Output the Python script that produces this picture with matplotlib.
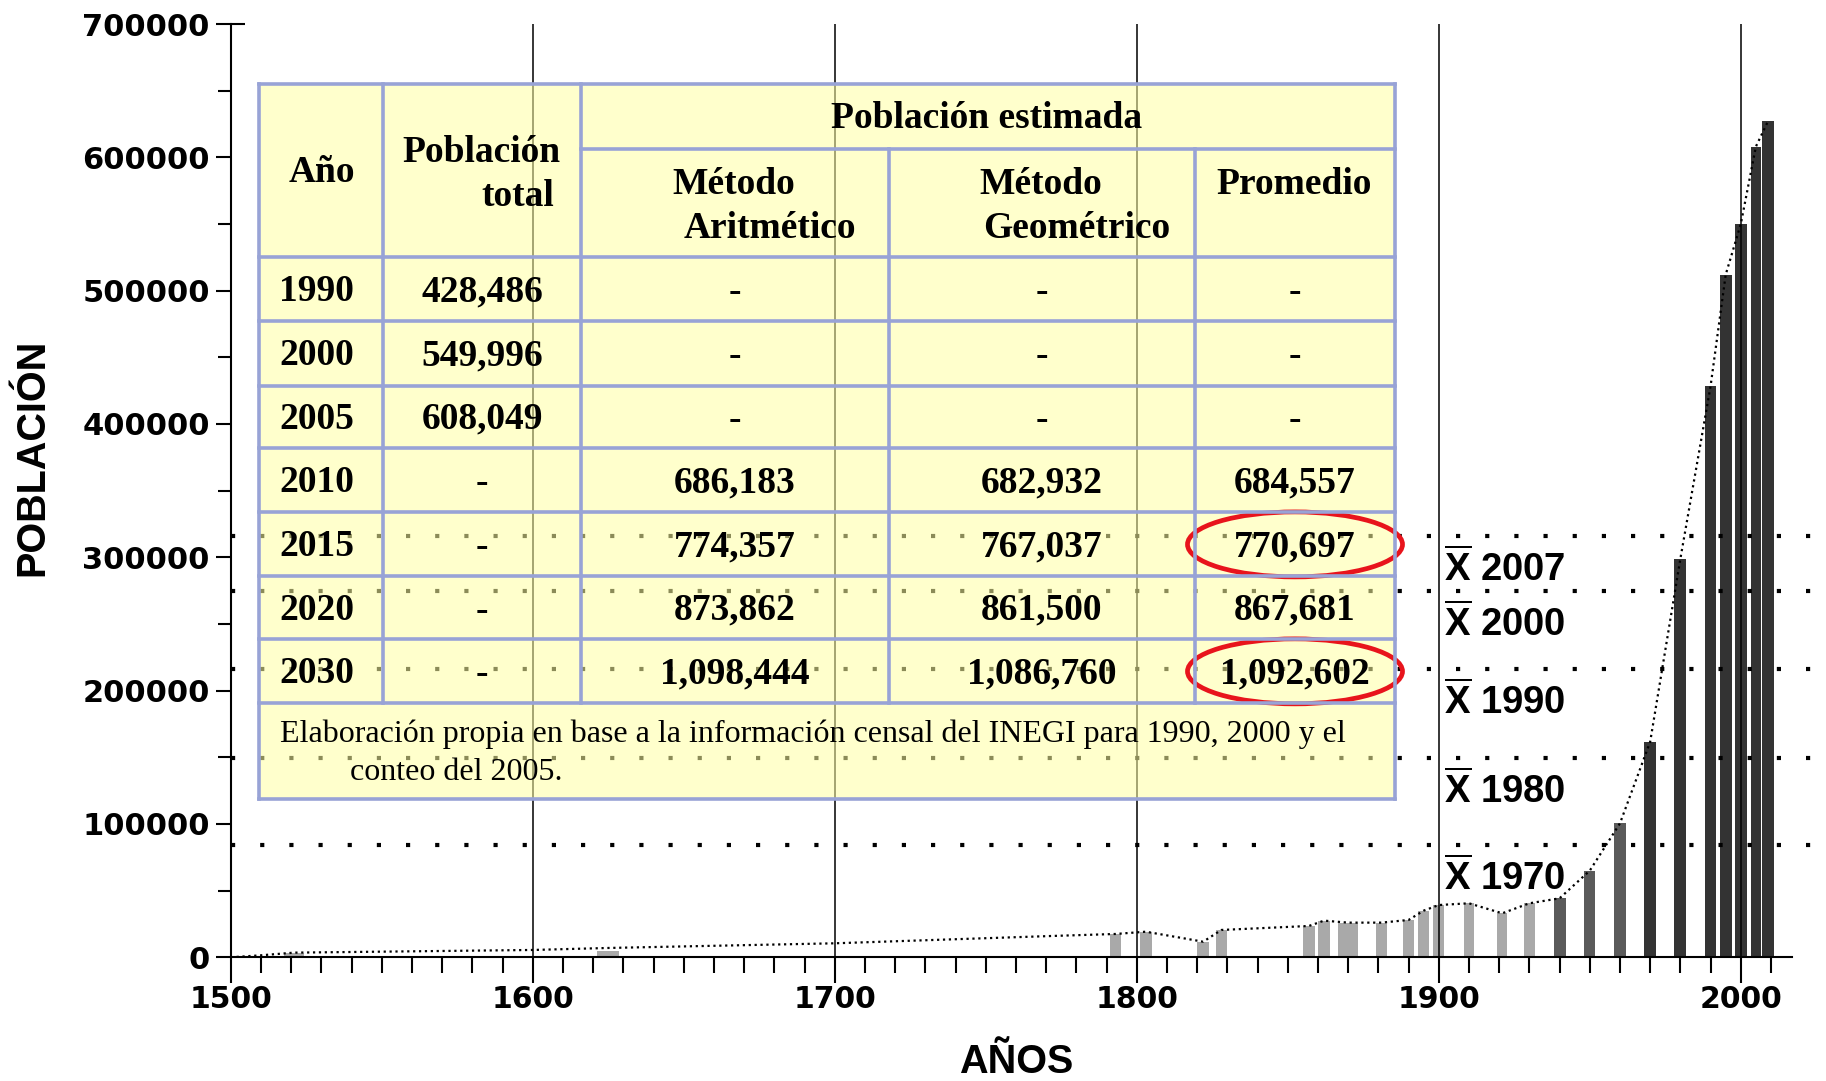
import matplotlib
matplotlib.use('Agg')
import matplotlib.pyplot as plt
from matplotlib.patches import Rectangle, Ellipse
from matplotlib.ticker import MultipleLocator, FixedLocator, StrMethodFormatter

# ---------------- data ----------------
bar_years = [1521, 1625, 1793, 1803, 1822, 1828, 1857, 1862, 1870, 1881, 1890, 1895,
             1900, 1910, 1921, 1930, 1940, 1950, 1960, 1970, 1980, 1990, 1995, 2000,
             2005, 2009]
bar_pop = [3000, 5000, 17500, 19200, 11700, 20500, 23500, 27500, 26000, 26000, 28000, 35000,
           39200, 40500, 33000, 40500, 44250, 65000, 100500, 161700, 299000, 428486, 512000,
           549996, 608049, 627000]

trend_years = [1500, 1510, 1521, 1600, 1625, 1700, 1772, 1793, 1803, 1822, 1828, 1857, 1862,
               1870, 1881, 1890, 1895, 1900, 1910, 1921, 1930, 1940, 1950, 1960, 1970, 1980,
               1990, 1995, 2000, 2005, 2009]
trend_pop = [0, 1500, 3500, 5500, 7000, 10500, 16000, 17500, 19200, 11700, 20500, 23500, 27500,
             26000, 26000, 28000, 35000, 39200, 40500, 33000, 40500, 44250, 65000, 100500,
             161700, 299000, 428486, 512000, 549996, 608049, 627000]

mean_labels = ['2007', '2000', '1990', '1980', '1970']
mean_levels = [316200, 274700, 216000, 149250, 84200]

x_major = [1500, 1600, 1700, 1800, 1900, 2000]
y_major = [0, 100000, 200000, 300000, 400000, 500000, 600000, 700000]

table_years = ['1990', '2000', '2005', '2010', '2015', '2020', '2030']
pob_total = ['428,486', '549,996', '608,049', '-', '-', '-', '-']
metodo_arit = ['-', '-', '-', '686,183', '774,357', '873,862', '1,098,444']
metodo_geom = ['-', '-', '-', '682,932', '767,037', '861,500', '1,086,760']
promedio = ['-', '-', '-', '684,557', '770,697', '867,681', '1,092,602']
highlight_rows = [4, 6]
nota = ['Elaboración propia en base a la información censal del INEGI para 1990, 2000 y el',
        'conteo del 2005.']

# ---------------- styles ----------------
bar_widths = [6.5, 7.3, 3.7, 3.9, 3.9, 3.8, 3.9, 3.8, 6.6, 3.8, 3.8, 3.8,
              3.7, 3.6, 3.3, 3.8, 4.0, 3.6, 3.8, 4.0, 4.0, 3.6, 4.0, 3.8, 3.3, 4.0]
LIGHT, MID, DARK = '#a9a9a9', '#5a5a5a', '#333333'
def bar_color(y):
    if y < 1935:
        return LIGHT
    if y < 1965:
        return MID
    return DARK

plt.rcParams['mathtext.fontset'] = 'custom'
plt.rcParams['mathtext.bf'] = 'Liberation Sans:bold'
plt.rcParams['mathtext.rm'] = 'Liberation Sans'
plt.rcParams['mathtext.it'] = 'Liberation Sans:italic'

W, H = 1826, 1081
fig = plt.figure(figsize=(W / 100, H / 100), dpi=100)
ax_l, ax_r, ax_t, ax_b = 230.7, 1816.3, 24.0, 957.3
ax = fig.add_axes([ax_l / W, 1 - ax_b / H, (ax_r - ax_l) / W, (ax_b - ax_t) / H])
ax.set_xlim(1500, 2025)
ax.set_ylim(0, 700000)
ax.patch.set_alpha(0)

ax.bar(bar_years, bar_pop, width=bar_widths, color=[bar_color(y) for y in bar_years],
       edgecolor='none', zorder=2)
ax.vlines(x_major[1:], 0, y_major[-1], color='black', lw=1.1, zorder=3)
for lvl in mean_levels:
    ax.axhline(lvl, color='black', lw=3.0, ls=(0, (1, 6.0)), dash_capstyle='butt', zorder=4)
ax.plot(trend_years, trend_pop, color='black', lw=1.6, ls=':', zorder=5)

for lab, lvl in zip(mean_labels, mean_levels):
    ax.annotate(r'$\overline{\mathbf{X}}$ ' + lab, xy=(1900, lvl), xytext=(3.6, -32.4),
                textcoords='offset points', ha='left', va='baseline', fontsize=27.5,
                fontweight='bold', family='Liberation Sans', zorder=6)

# spines & ticks
for s in ['top', 'right']:
    ax.spines[s].set_visible(False)
ax.spines['left'].set_linewidth(1.5)
ax.spines['bottom'].set_linewidth(1.5)
ax.spines['bottom'].set_bounds(1500, 2017)
ax.set_xticks(x_major)
ax.xaxis.set_minor_locator(FixedLocator([y for y in range(1510, 2011, 10) if y % 100]))
ax.set_yticks(y_major)
ax.yaxis.set_minor_locator(MultipleLocator(50000))
ax.yaxis.set_major_formatter(StrMethodFormatter('{x:.0f}'))
ax.tick_params(axis='x', which='major', length=19, width=1.5, pad=1, labelsize=21.5)
ax.tick_params(axis='x', which='minor', length=11.5, width=1.5)
ax.tick_params(axis='y', which='major', length=10.5, width=1.5, pad=4.5, labelsize=22)
ax.tick_params(axis='y', which='minor', length=9.5, width=1.5)
for t in ax.get_xticklabels() + ax.get_yticklabels():
    t.set_fontweight('bold')
    t.set_family('DejaVu Sans')
ax.hlines(y_major[-1], 1500, 1504.7, color='black', lw=1.5, clip_on=False)

fig.text(32.6 / W, 1 - 457 / H, 'POBLACIÓN', rotation=90, ha='center', va='center',
         fontsize=28.5, fontweight='bold', family='Liberation Sans')
fig.text(1016.6 / W, 1 - 1062 / H, 'AÑOS', ha='center', va='center',
         fontsize=28.5, fontweight='bold', family='Liberation Sans')

# ---------------- table overlay ----------------
ov = fig.add_axes([0, 0, 1, 1], zorder=10)
ov.set_xlim(0, W)
ov.set_ylim(H, 0)
ov.axis('off')

tx0, tx1, ty0, ty1 = 258.5, 1395.0, 83.8, 798.9
cols = [258.5, 383.1, 581.1, 888.5, 1194.8, 1395.0]
rows = [83.8, 149.0, 257.4, 321.4, 385.5, 448.3, 512.4, 576.4, 639.3, 703.4, 798.9]
BORDER = '#98a3d6'
ov.add_patch(Rectangle((tx0, ty0), tx1 - tx0, ty1 - ty0, facecolor='#FFFFA2', alpha=0.55,
                       edgecolor='none'))
blw = 2.6
for y in rows[2:]:
    ov.plot([tx0, tx1], [y, y], color=BORDER, lw=blw, solid_capstyle='projecting')
ov.plot([tx0, tx1], [rows[0], rows[0]], color=BORDER, lw=blw, solid_capstyle='projecting')
ov.plot([cols[2], tx1], [rows[1], rows[1]], color=BORDER, lw=blw, solid_capstyle='projecting')
ov.plot([tx0, tx0], [ty0, ty1], color=BORDER, lw=blw, solid_capstyle='projecting')
ov.plot([tx1, tx1], [ty0, ty1], color=BORDER, lw=blw, solid_capstyle='projecting')
for x in cols[1:3]:
    ov.plot([x, x], [rows[0], rows[9]], color=BORDER, lw=blw, solid_capstyle='projecting')
for x in cols[3:5]:
    ov.plot([x, x], [rows[1], rows[9]], color=BORDER, lw=blw, solid_capstyle='projecting')

SERIF = 'Liberation Serif'
hs = 27
hk = dict(fontsize=hs, fontweight='bold', family=SERIF, va='center')
ov.text(321.4, 173, 'Año', ha='center', **hk)
ov.text(481, 152.4, 'Población', ha='center', **hk)
ov.text(554.3, 196.6, 'total', ha='right', **hk)
ov.text(986.3, 119, 'Población estimada', ha='center', **hk)
ov.text(734.2, 184, 'Método', ha='center', **hk)
ov.text(770.3, 228, 'Aritmético', ha='center', **hk)
ov.text(1041, 184, 'Método', ha='center', **hk)
ov.text(1077, 228, 'Geométrico', ha='center', **hk)
ov.text(1293.8, 184, 'Promedio', ha='center', **hk)

col_centers = [316.7, 482.1, 734.8, 1041.6, 1294.9]
for i in range(len(table_years)):
    yc = (rows[i + 2] + rows[i + 3]) / 2 + 2.5
    vals = [table_years[i], pob_total[i], metodo_arit[i], metodo_geom[i], promedio[i]]
    for xc, v in zip(col_centers, vals):
        ov.text(xc, yc, v, ha='center', **hk)

t1 = ov.text(279.5, 734.6, nota[0], ha='left', va='center', fontsize=20, family=SERIF)
renderer = fig.canvas.get_renderer()
scale = 1067.5 / t1.get_window_extent(renderer).width
t1.set_fontsize(20 * scale)
ov.text(350.5, 772, nota[1], ha='left', va='center', fontsize=20 * scale, family=SERIF)

for r in highlight_rows:
    yc = (rows[r + 2] + rows[r + 3]) / 2
    ov.add_patch(Ellipse((1295, yc), 215, 65, fill=False, edgecolor='#E8141C', lw=3.4))

fig.savefig('out.png', dpi=100)
